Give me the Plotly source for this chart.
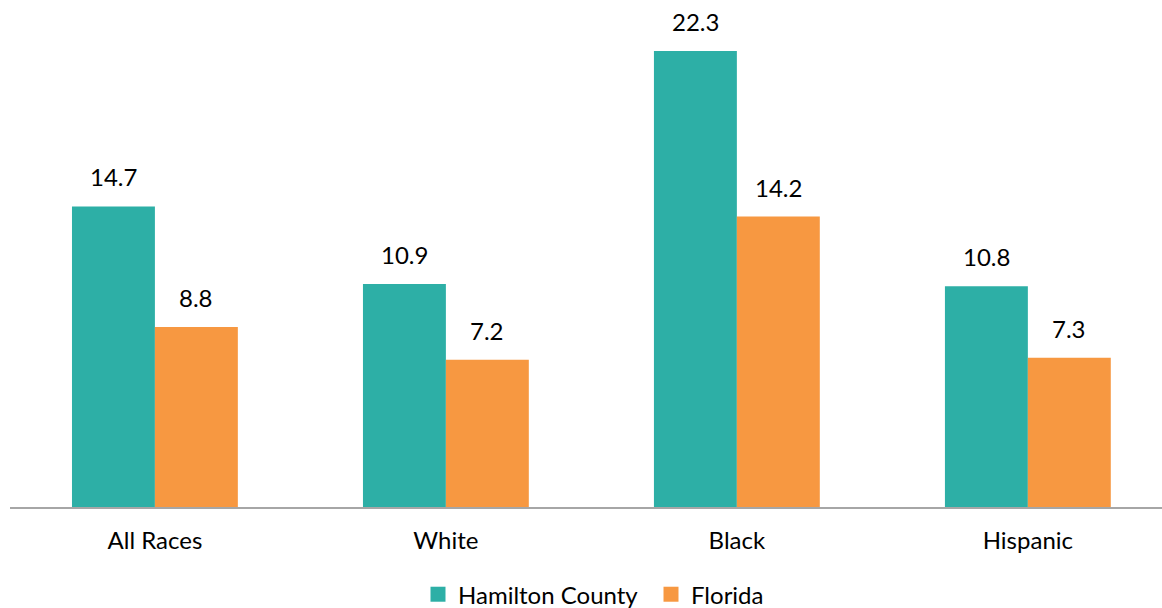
import plotly.graph_objects as go

categories = ["All Races", "White", "Black", "Hispanic"]
hamilton = [14.7, 10.9, 22.3, 10.8]
florida = [8.8, 7.2, 14.2, 7.3]
series_names = ["Hamilton County", "Florida"]
colors = ["#2DAFA6", "#F79841"]

FONT = "Lato"
FS = 24
bargap = 0.43
bar_w = (1 - bargap) / 2

fig = go.Figure()
for name, vals, col in zip(series_names, [hamilton, florida], colors):
    fig.add_trace(go.Bar(
        name=name, x=categories, y=vals, showlegend=False,
        marker=dict(color=col, line=dict(width=0)),
    ))
    # square legend key
    fig.add_trace(go.Scatter(
        name=name, x=[None], y=[None], mode="markers",
        marker=dict(symbol="square", size=15, color=col),
    ))

# value labels above each bar
for k, vals in enumerate([hamilton, florida]):
    off = (k - 0.5) * bar_w
    for i, v in enumerate(vals):
        fig.add_annotation(
            x=i + off, y=v, text=f"{v:.1f}", showarrow=False,
            yanchor="bottom", yshift=13, xref="x", yref="y",
            font=dict(family=FONT, size=FS, color="#000000"),
        )

fig.update_layout(
    width=1162, height=608,
    margin=dict(l=10, r=0, t=16, b=101, autoexpand=False),
    paper_bgcolor="white", plot_bgcolor="white",
    barmode="group", bargap=bargap, bargroupgap=0,
    font=dict(family=FONT, size=FS, color="#000000"),
    showlegend=True,
    legend=dict(
        orientation="h", x=(418 - 10) / 1152, xanchor="left",
        yref="container", y=0.022, yanchor="middle",
        font=dict(family=FONT, size=FS, color="#000000"),
        itemsizing="trace", traceorder="normal", itemwidth=30,
        entrywidth=188, entrywidthmode="pixels",
    ),
)
fig.update_xaxes(
    type="category", range=[-0.498, 3.461],
    showline=True, linecolor="#A6A6A6", linewidth=2,
    showgrid=False, ticks="", ticklabelstandoff=11,
    tickfont=dict(family=FONT, size=FS, color="#000000"),
)
fig.update_yaxes(
    range=[0, 24.01], visible=False, showgrid=False, zeroline=False,
)

fig.write_html("out.html")
